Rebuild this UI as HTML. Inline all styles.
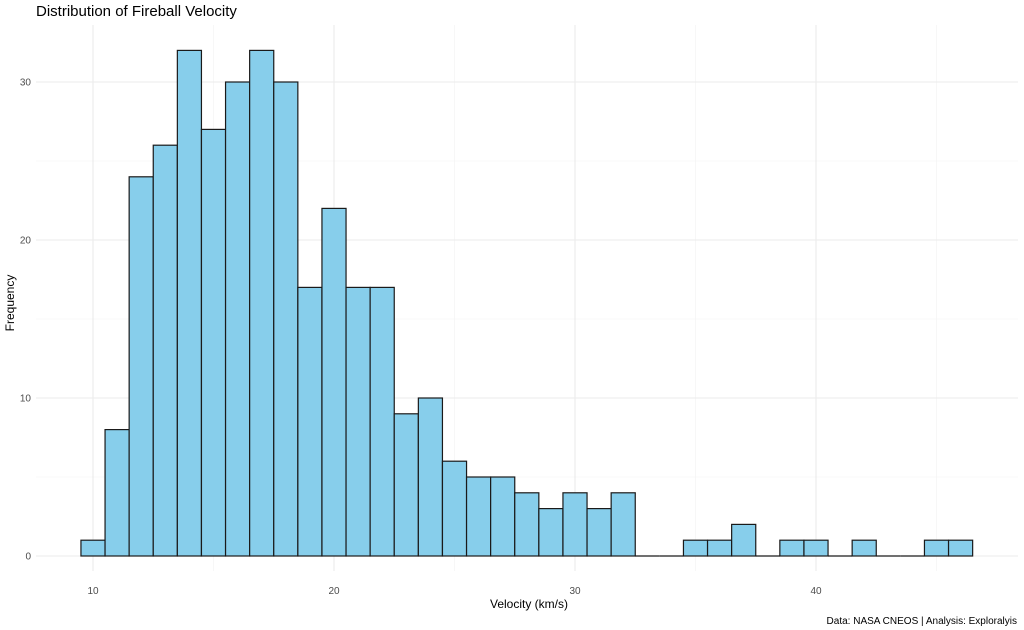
<!DOCTYPE html>
<html><head><meta charset="utf-8"><style>
body{margin:0;background:#fff;font-family:"Liberation Sans",sans-serif}
svg{display:block}
</style></head><body>
<svg id="chart" width="1024" height="630" xmlns="http://www.w3.org/2000/svg">
<text x="36" y="16" font-size="15" fill="#000">Distribution of Fireball Velocity</text>
<g id="grid"></g>
<g id="bars"></g>
<g id="ticks"></g>
<text x="529" y="608" font-size="12" text-anchor="middle" fill="#000">Velocity (km/s)</text>
<text transform="translate(14,303) rotate(-90)" font-size="12" text-anchor="middle" fill="#000">Frequency</text>
<text x="1017" y="624" font-size="10" text-anchor="end" fill="#000">Data: NASA CNEOS | Analysis: Exploralyis</text>
</svg>
<script>
const binCenters=[10,11,12,13,14,15,16,17,18,19,20,21,22,23,24,25,26,27,28,29,30,31,32,33,34,35,36,37,38,39,40,41,42,43,44,45,46];
const counts=[1,8,24,26,32,27,30,32,30,17,22,17,17,9,10,6,5,5,4,3,4,3,4,0,0,1,1,2,0,1,1,0,1,0,0,1,1];
const xTicks=[10,20,30,40];
const xMinor=[15,25,35,45];
const yTicks=[0,10,20,30];
const yMinor=[5,15,25];
const binWidth=1;
const NS="http://www.w3.org/2000/svg";
const X=v=>93+(v-10)*24.1;
const Y=v=>556-v*15.8;
const L=36,R=1018,T=25,B=571;
const grid=document.getElementById('grid'),bars=document.getElementById('bars'),ticks=document.getElementById('ticks');
function line(p,x1,y1,x2,y2,c,w){const l=document.createElementNS(NS,'line');l.setAttribute('x1',x1);l.setAttribute('y1',y1);l.setAttribute('x2',x2);l.setAttribute('y2',y2);l.setAttribute('stroke',c);l.setAttribute('stroke-width',w);p.appendChild(l);return l;}
xMinor.forEach(v=>{const l=line(grid,X(v),T,X(v),B,'#f2f2f2',0.6);

});
yMinor.forEach(v=>{const l=line(grid,L,Y(v),R,Y(v),'#f2f2f2',0.6);

});
xTicks.forEach(v=>{const l=line(grid,X(v),T,X(v),B,'#ebebeb',1.1);


const t=document.createElementNS(NS,'text');t.setAttribute('x',X(v));t.setAttribute('y',594);t.setAttribute('font-size','10');t.setAttribute('text-anchor','middle');t.setAttribute('fill','#4d4d4d');t.textContent=v;


ticks.appendChild(t);});
yTicks.forEach(v=>{const l=line(grid,L,Y(v),R,Y(v),'#ebebeb',1.1);


const t=document.createElementNS(NS,'text');t.setAttribute('x',31);t.setAttribute('y',Y(v)+3.5);t.setAttribute('font-size','10');t.setAttribute('text-anchor','end');t.setAttribute('fill','#4d4d4d');t.textContent=v;


ticks.appendChild(t);});
binCenters.forEach((c,i)=>{const v=counts[i];const x0=X(c-binWidth/2),x1=X(c+binWidth/2);
if(v===0){const z=line(bars,x0,Y(0),x1,Y(0),'#1a1a1a',1.2);


return;}
const r=document.createElementNS(NS,'rect');r.setAttribute('x',x0);r.setAttribute('y',Y(v));r.setAttribute('width',x1-x0);r.setAttribute('height',Y(0)-Y(v));r.setAttribute('fill','#87ceeb');r.setAttribute('stroke','#1a1a1a');r.setAttribute('stroke-width',1.2);


bars.appendChild(r);});
</script>
</body></html>
